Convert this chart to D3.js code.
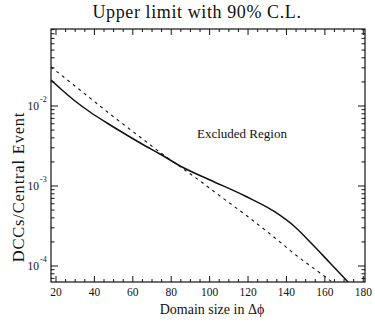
<!DOCTYPE html>
<html><head><meta charset="utf-8">
<script src="https://cdn.jsdelivr.net/npm/d3@7"></script>
<style>body{margin:0;background:#fff}svg{display:block}text{font-family:"Liberation Serif","DejaVu Serif",serif;fill:#111}</style>
</head><body>
<svg id="c" width="375" height="324"></svg>
<script>
const titleText = "Upper limit with 90% C.L.";
const xLabel = "Domain size in Δϕ";
const yLabel = "DCCs/Central Event";
const annotation = "Excluded Region";
const xDomain = [17.4, 180.9];
const yDomain = [6.31e-5, 0.0917];
const xTicks = [20, 40, 60, 80, 100, 120, 140, 160, 180];
const yTickExps = [-2, -3, -4];

const solidX = [17.4, 23.13, 29.9, 37.71, 46.56, 55.94, 64.79, 74.17, 85.63, 100.21, 118.44, 134.06, 144.48, 153.33, 162.71, 172.08];
const solidY = [0.02113, 0.01585, 0.01155, 0.008414, 0.006131, 0.004467, 0.00335, 0.002512, 0.001728, 0.001189, 0.0007499, 0.0004732, 0.0003073, 0.0001884, 0.000109, 0.0000631];
const dashX = [17.4, 32.5, 48.13, 63.75, 76.77, 85.63, 95.0, 105.42, 119.48, 134.06, 145.52, 157.5, 163.75];
const dashY = [0.03073, 0.01585, 0.007943, 0.004097, 0.002371, 0.001679, 0.001155, 0.0007499, 0.0004217, 0.0002239, 0.0001334, 0.0000818, 0.0000631];

const L = 51, R = 365, T = 29, B = 282;
const svg = d3.select("#c");
const x = d3.scaleLinear().domain(xDomain).range([L, R]);
const y = d3.scaleLog().domain(yDomain).range([B, T]);

svg.append("clipPath").attr("id","clip").append("rect").attr("x",L).attr("y",T).attr("width",R-L).attr("height",B-T);

// ticks (inward)
const g = svg.append("g").attr("stroke","#111").attr("stroke-width",1);
const minorX = d3.range(20, 181, 5);
minorX.forEach(v => {
  const major = v % 20 === 0;
  const len = major ? 6 : 3;
  g.append("line").attr("x1",x(v)).attr("x2",x(v)).attr("y1",B).attr("y2",B-len);
  g.append("line").attr("x1",x(v)).attr("x2",x(v)).attr("y1",T).attr("y2",T+len);
});
const yMinor = [];
for (let e = -5; e <= -1; e++) for (let m = 1; m <= 9; m++) {
  const v = m * Math.pow(10, e);
  if (v >= yDomain[0] && v <= yDomain[1]) yMinor.push([v, m === 1]);
}
yMinor.forEach(([v, major]) => {
  const len = major ? 7 : 3.5;
  g.append("line").attr("x1",L).attr("x2",L+len).attr("y1",y(v)).attr("y2",y(v));
  g.append("line").attr("x1",R).attr("x2",R-len).attr("y1",y(v)).attr("y2",y(v));
});

// frame
svg.append("rect").attr("x",L).attr("y",T).attr("width",R-L).attr("height",B-T)
  .attr("fill","none").attr("stroke","#111").attr("stroke-width",1.2);

// x tick labels
svg.append("g").selectAll("text").data(xTicks).join("text")
  .attr("x", d => x(d)).attr("y", 296).attr("text-anchor","middle")
  .attr("font-size", 11.5).text(d => d);

// y tick labels
yTickExps.forEach(e => {
  const yy = y(Math.pow(10, e));
  svg.append("text").attr("x", 39).attr("y", yy + 4).attr("text-anchor","end").attr("font-size", 11.5).text("10");
  svg.append("text").attr("x", 40).attr("y", yy - 4).attr("font-size", 8).text("-" + Math.abs(e));
});

// curves
const line = d3.line().x(d => x(d[0])).y(d => y(d[1])).curve(d3.curveMonotoneX);
const solid = solidX.map((v,i) => [v, solidY[i]]);
const dashed = dashX.map((v,i) => [v, dashY[i]]);
const cg = svg.append("g").attr("clip-path","url(#clip)");
cg.append("path").attr("d", line(solid)).attr("fill","none").attr("stroke","#111").attr("stroke-width",1.5);
cg.append("path").attr("d", line(dashed)).attr("fill","none").attr("stroke","#111").attr("stroke-width",1.1).attr("stroke-dasharray","3,4");

// texts
svg.append("text").attr("x", 197).attr("y", 18).attr("text-anchor","middle").attr("font-size", 18).attr("letter-spacing", 0.6).text(titleText);
svg.append("text").attr("x", 212).attr("y", 314).attr("text-anchor","middle").attr("font-size", 14).text(xLabel);
svg.append("text").attr("transform","translate(24,187) rotate(-90)").attr("text-anchor","middle").attr("font-size", 16.5).attr("letter-spacing", 0.8).text(yLabel);
svg.append("text").attr("x", 197).attr("y", 138).attr("font-size", 13).text(annotation);
</script>
</body></html>
